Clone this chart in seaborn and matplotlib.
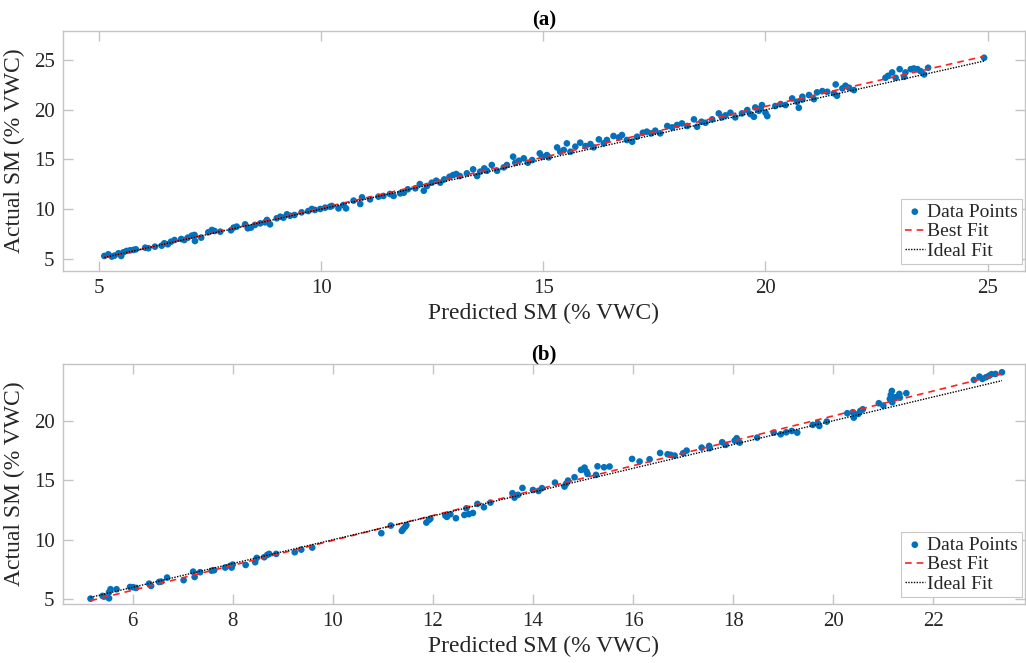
import numpy as np
import pandas as pd
import seaborn as sns
import matplotlib
matplotlib.use("Agg")
import matplotlib.pyplot as plt

# ---------------- data: panel (a) ----------------
pred_a = [5.12, 5.21, 5.29, 5.35, 5.44, 5.50, 5.55, 5.62, 5.70, 5.77, 5.83, 6.04, 6.11, 6.26, 6.41,
          6.47, 6.55, 6.62, 6.70, 6.85, 6.92, 7.00, 7.09, 7.15, 7.16, 7.30, 7.46, 7.54, 7.60, 7.73,
          7.97, 8.03, 8.10, 8.29, 8.35, 8.42, 8.51, 8.63, 8.74, 8.78, 8.85, 9.00, 9.08, 9.15, 9.23,
          9.30, 9.40, 9.56, 9.71, 9.79, 9.86, 9.98, 10.09, 10.20,
          10.24, 10.39, 10.50, 10.56, 10.73, 10.88, 10.92, 11.10, 11.29, 11.40, 11.55, 11.63, 11.78,
          11.86, 11.95, 12.12, 12.22, 12.31, 12.38, 12.49, 12.59, 12.68, 12.77, 12.89, 12.97, 13.04,
          13.12, 13.28, 13.42, 13.51, 13.58, 13.67, 13.73, 13.84, 13.96, 14.11, 14.18, 14.32, 14.37,
          14.45, 14.56, 14.65, 14.75, 14.92, 14.97, 15.08, 15.12, 15.31, 15.38, 15.46,
          15.53, 15.61, 15.72, 15.83, 15.95, 16.06, 16.13, 16.25, 16.36, 16.43, 16.58, 16.70, 16.77,
          16.88, 17.00, 17.11, 17.24, 17.33, 17.43, 17.52, 17.63, 17.79, 17.90, 18.01, 18.12, 18.24,
          18.39, 18.46, 18.56, 18.65, 18.80, 18.95, 19.02, 19.10, 19.21, 19.32, 19.47, 19.59, 19.66,
          19.74, 19.77, 19.85, 19.89, 19.92, 20.00, 20.04, 20.22, 20.34, 20.45, 20.60, 20.71, 20.83,
          20.75, 20.83, 20.98, 21.09, 21.16, 21.28, 21.39, 21.54, 21.58, 21.61, 21.73, 21.80, 21.88,
          21.99, 22.70, 22.76, 22.85, 22.93, 23.02, 23.12, 23.15, 23.27, 23.34, 23.42, 23.49, 23.57,
          23.66, 24.92]
act_a = [5.27, 5.44, 5.21, 5.31, 5.54, 5.27, 5.64, 5.78, 5.84, 5.88, 5.94, 6.11, 6.05, 6.21, 6.31,
         6.55, 6.45, 6.71, 6.88, 6.98, 6.88, 7.12, 7.32, 7.39, 6.78, 7.12, 7.66, 7.89, 7.79, 7.72,
         7.86, 8.13, 8.23, 8.46, 8.06, 8.13, 8.40, 8.56, 8.66, 8.90, 8.46, 9.07, 9.23, 9.13, 9.47,
         9.33, 9.40, 9.67, 9.80, 10.01, 9.91, 10.01, 10.14, 10.24,
         10.31, 10.07, 10.41, 10.07, 10.85, 10.51, 11.18, 10.98, 11.25, 11.32, 11.52, 11.32, 11.58,
         11.65, 11.99, 12.09, 12.52, 11.85, 12.32, 12.66, 12.86, 12.66, 12.99, 13.26, 13.43, 13.53,
         13.33, 13.60, 14.00, 13.33, 13.77, 14.10, 13.86, 14.44, 13.86, 14.20, 14.44, 15.28, 14.67,
         14.87, 15.11, 14.67, 14.94, 15.61, 15.28, 15.44, 15.21, 16.21, 15.78, 15.95,
         16.62, 15.78, 16.29, 16.69, 16.35, 16.55, 16.22, 17.02, 16.62, 16.96, 17.36, 17.22, 17.46,
         16.96, 16.79, 17.29, 17.69, 17.80, 17.63, 17.90, 17.63, 18.37, 18.23, 18.47, 18.63, 18.37,
         19.04, 18.30, 18.80, 18.70, 19.04, 19.64, 19.24, 19.44, 19.71, 19.24, 19.64, 19.98, 19.57,
         19.30, 20.24, 19.91, 20.14, 20.48, 19.71, 19.37, 20.38, 20.58, 20.48, 21.15, 20.81, 21.05,
         20.21, 21.32, 21.49, 21.08, 21.76, 21.89, 21.82, 21.66, 22.56, 21.42, 22.16, 22.43, 22.23,
         21.99, 23.23, 23.43, 23.77, 23.23, 24.10, 23.33, 23.77, 24.10, 24.17, 24.10, 23.90, 23.57,
         24.24, 25.25]

# ---------------- data: panel (b) ----------------
pred_b = [5.16, 5.40, 5.43, 5.53, 5.56, 5.53, 5.68, 5.95, 6.01, 6.07, 6.33, 6.37, 6.53, 6.57, 6.69,
          7.02, 7.21, 7.24, 7.35, 7.58, 7.63, 7.85, 7.95, 7.98, 8.00, 8.26, 8.45, 8.48, 8.63, 8.69,
          8.73, 8.87, 9.24, 9.37, 9.59, 10.97, 11.16, 11.38, 11.41, 11.45, 11.47, 11.87, 11.92, 11.95,
          12.25, 12.28, 12.35, 12.46, 12.63, 12.72, 12.80,
          12.67, 12.89, 13.02, 13.15, 13.59, 13.63, 13.70, 13.79, 14.00, 14.11, 14.18, 14.44, 14.63,
          14.66, 14.70, 14.83, 14.96, 15.03, 15.07, 15.09, 15.26, 15.29, 15.42, 15.53, 15.98, 16.13,
          16.33, 16.54, 16.69, 16.75, 16.83, 17.00, 17.07, 17.37, 17.52, 17.53, 17.78, 17.85, 18.03,
          18.07, 18.13, 18.48, 18.81, 18.95, 19.06, 19.17, 19.28, 19.59, 19.69, 19.72, 19.87, 20.28,
          20.39, 20.41, 20.50, 20.54, 20.59, 20.91, 21.00, 21.13, 21.15, 21.17, 21.18, 21.24, 21.32,
          21.33, 21.46, 22.81, 22.92, 22.98, 23.05, 23.11, 23.16, 23.24, 23.37]
act_b = [5.05, 5.28, 5.22, 5.59, 5.84, 5.08, 5.84, 6.03, 6.01, 5.95, 6.31, 6.12, 6.45, 6.48, 6.82,
         6.60, 7.32, 6.87, 7.27, 7.40, 7.44, 7.66, 7.80, 7.66, 7.91, 7.88, 8.11, 8.47, 8.53, 8.72,
         8.81, 8.81, 8.95, 9.17, 9.34, 10.55, 11.19, 10.74, 10.91, 11.10, 11.24, 11.44, 11.66, 11.77,
         12.03, 11.92, 12.14, 11.81, 12.08, 12.15, 12.25,
         12.64, 13.01, 12.73, 13.12, 13.91, 13.54, 13.77, 14.35, 14.18, 14.10, 14.33, 14.80, 14.47,
         14.69, 14.97, 15.25, 15.87, 16.06, 15.73, 15.53, 15.45, 16.17, 16.09, 16.15, 16.79, 16.57,
         16.76, 17.29, 17.18, 17.13, 17.07, 17.27, 17.49, 17.74, 17.88, 17.69, 18.19, 17.97, 18.33,
         18.53, 18.16, 18.58, 19.00, 18.86, 19.03, 19.14, 19.00, 19.65, 19.79, 19.56, 19.93, 20.63,
         20.71, 20.26, 20.57, 20.82, 20.96, 21.47, 21.27, 21.83, 22.17, 22.50, 21.55, 21.97, 22.25,
         21.94, 22.31, 23.43, 23.71, 23.51, 23.65, 23.77, 23.91, 23.93, 24.07]

titles = ["(a)", "(b)"]
x_label = "Predicted SM (% VWC)"
y_label = "Actual SM (% VWC)"
legend_labels = ["Data Points", "Best Fit", "Ideal Fit"]
xticks_a = [5, 10, 15, 20, 25]
yticks_a = [5, 10, 15, 20, 25]
xticks_b = [6, 8, 10, 12, 14, 16, 18, 20, 22]
yticks_b = [5, 10, 15, 20]

# ---------------- style ----------------
sns.set_theme(style="white")
plt.rcParams["font.family"] = ["Liberation Serif", "DejaVu Serif"]

SPINE = "#c4c4c4"
TXT = "#262626"
BLUE = "#0072BD"

fig = plt.figure(figsize=(10.26, 6.63), dpi=100)
ax_a = fig.add_axes([0.0614, 0.5913, 0.9376, 0.362])
ax_b = fig.add_axes([0.0614, 0.0890, 0.9376, 0.3615])

panels = [
    (ax_a, pred_a, act_a, (4.19, 25.84), (3.76, 27.95), xticks_a, yticks_a),
    (ax_b, pred_b, act_b, (4.61, 23.83), (4.60, 24.74), xticks_b, yticks_b),
]

for i, (ax, xp, ya, xl, yl, xt, yt) in enumerate(panels):
    xp = np.asarray(xp)
    ya = np.asarray(ya)
    df = pd.DataFrame({"pred": xp, "act": ya})
    sns.scatterplot(data=df, x="pred", y="act", ax=ax, color=BLUE, s=23,
                    edgecolor="none", linewidth=0, label=legend_labels[0], zorder=2)
    coef = np.polyfit(xp, ya, 1)
    xs = np.array([xp.min(), xp.max()])
    fit_df = pd.DataFrame({"x": xs, "y": np.polyval(coef, xs)})
    sns.lineplot(data=fit_df, x="x", y="y", ax=ax, color="#ff2020",
                 linestyle=(0, (4, 3)), linewidth=1.2, label=legend_labels[1], zorder=3)
    ideal_df = pd.DataFrame({"x": xs, "y": xs})
    sns.lineplot(data=ideal_df, x="x", y="y", ax=ax, color="black",
                 linestyle=(0, (1, 1)), linewidth=1.0, label=legend_labels[2], zorder=4)

    ax.set_xlim(*xl)
    ax.set_ylim(*yl)
    ax.set_xticks(xt)
    ax.set_yticks(yt)
    ax.set_xlabel(x_label, fontsize=17, color=TXT, labelpad=3)
    ax.set_ylabel(y_label, fontsize=17, color=TXT, labelpad=6)
    ax.set_title(titles[i], fontsize=15, fontweight="bold", color="black", pad=3)
    for sp in ax.spines.values():
        sp.set_color(SPINE)
        sp.set_linewidth(1.0)
    ax.tick_params(axis="both", which="both", direction="in", length=7,
                   width=1.0, color=SPINE, labelsize=15, labelcolor=TXT,
                   top=True, right=True, bottom=True, left=True, pad=6)
    leg = ax.legend(loc="lower right", bbox_to_anchor=(0.997, 0.03), fontsize=14,
                    frameon=True, fancybox=False, framealpha=1, edgecolor="#c8c8c8",
                    handlelength=1.0, handletextpad=0.15, labelspacing=0.1,
                    borderpad=0.2, borderaxespad=0.0, markerscale=1.0)
    leg.get_frame().set_linewidth(0.8)
    for t in leg.get_texts():
        t.set_color(TXT)

fig.savefig("out.png", dpi=100)
